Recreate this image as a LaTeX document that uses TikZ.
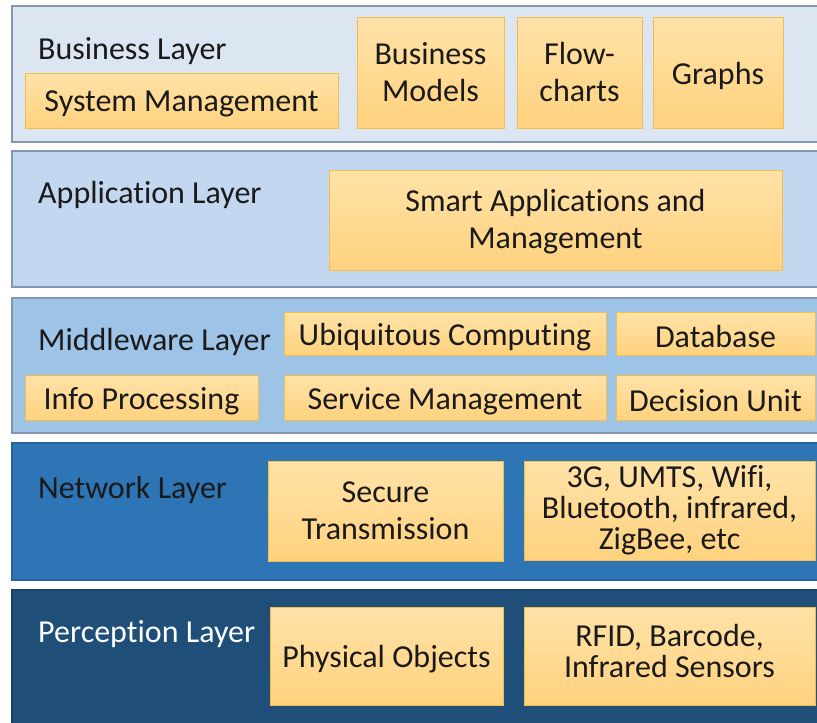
\documentclass[tikz,border=0pt]{standalone}
\usepackage{fontspec}
\setmainfont{Carlito}[Ligatures=NoCommon]
\definecolor{bizfill}{HTML}{DCE6F2}
\definecolor{appfill}{HTML}{C3D8F0}
\definecolor{midfill}{HTML}{9DC3E6}
\definecolor{netfill}{HTML}{2E75B6}
\definecolor{perfill}{HTML}{1F4E79}
\definecolor{layeredge}{HTML}{8497B0}
\definecolor{boxtop}{HTML}{FFE2A8}
\definecolor{boxbot}{HTML}{FFD27E}
\definecolor{boxedge}{HTML}{F2C04A}
\definecolor{ink}{HTML}{1A1A1A}
\tikzset{
  layer/.style={rectangle, anchor=north west, inner sep=0pt, line width=1.5pt},
  layerlabel/.style={anchor=base west, inner sep=0pt, font=\fontsize{32}{37}\selectfont},
  item/.style={rectangle, draw=boxedge, line width=1pt, top color=boxtop, bottom color=boxbot,
    align=center, inner sep=0pt, text=ink, font=\fontsize{32}{37}\selectfont},
}
% shifts box text vertically while keeping its nominal size for centring
\newcommand{\shifttext}[2]{\raisebox{#1}[\height][\depth]{#2}}
\newcommand{\lowtext}[1]{\shifttext{-3.5pt}{#1}}
\newcommand{\lines}[1]{\begin{tabular}{@{}c@{}}#1\end{tabular}}
\begin{document}
\begin{tikzpicture}[x=1pt,y=-1pt]
\useasboundingbox (0,0) rectangle (817,723);
\fill[white] (0,0) rectangle (817,723);
\begin{scope}
\clip (0,0) rectangle (817,723);
% layer bands
\node[layer, fill=bizfill, draw=layeredge, minimum width=830pt, minimum height=136pt] (biz) at (11,5) {};
\node[layer, fill=appfill, draw=layeredge, minimum width=830pt, minimum height=136pt] (app) at (11,150) {};
\node[layer, fill=midfill, draw=layeredge, minimum width=830pt, minimum height=135pt] (mid) at (11,297) {};
\node[layer, fill=netfill, draw=netfill!85!black, minimum width=830pt, minimum height=137pt] (net) at (11,442) {};
\node[layer, fill=perfill, draw=perfill!85!black, minimum width=830pt, minimum height=150pt] (per) at (11,589) {};
\end{scope}
% layer titles
\node[layerlabel, text=ink] (bizlbl) at (38,59) {Business Layer};
\node[layerlabel, text=ink] (applbl) at (38,203) {Application Layer};
\node[layerlabel, text=ink] (midlbl) at (38,350) {Middleware Layer};
\node[layerlabel, text=ink] (netlbl) at (38,498) {Network Layer};
\node[layerlabel, text=white] (perlbl) at (38,642) {Perception Layer};
% business layer
\node[item, minimum width=313pt, minimum height=55pt] (sysm) at (181.5,100.5) {\lowtext{System Management}};
\node[item, minimum width=147pt, minimum height=111pt] (bmod) at (430.5,72.5) {Business\\Models};
\node[item, minimum width=125pt, minimum height=111pt] (flow) at (579.5,72.5) {Flow-\\charts};
\node[item, minimum width=130pt, minimum height=111pt] (graphs) at (718,72.5) {\lowtext{Graphs}};
% application layer
\node[item, minimum width=453pt, minimum height=100pt] (smart) at (555.5,220)
  {\shifttext{-3pt}{\lines{Smart Applications and\\Management}}};
% middleware layer
\node[item, minimum width=322pt, minimum height=43pt] (ubiq) at (445,333.5) {\lowtext{Ubiquitous Computing}};
\node[item, minimum width=199pt, minimum height=43pt] (db) at (715.5,333.5) {\lowtext{Database}};
\node[item, minimum width=233pt, minimum height=45pt] (info) at (141.5,397.5) {\lowtext{Info Processing}};
\node[item, minimum width=322pt, minimum height=45pt] (serv) at (445,397.5) {\lowtext{Service Management}};
\node[item, minimum width=199pt, minimum height=45pt] (dec) at (715.5,397.5) {\lowtext{Decision Unit}};
% network layer
\node[item, minimum width=235pt, minimum height=100pt] (sec) at (385.5,511) {Secure\\Transmission};
\node[item, minimum width=291pt, minimum height=99pt, font=\fontsize{32}{31}\selectfont] (radio) at (669.5,510.5) {3G, UMTS, Wifi,\\Bluetooth, infrared,\\ZigBee, etc};
% perception layer
\node[item, minimum width=233pt, minimum height=98pt] (phys) at (386.5,656) {\lowtext{Physical Objects}};
\node[item, minimum width=291pt, minimum height=98pt, font=\fontsize{32}{29}\selectfont] (rfid) at (669.5,656)
  {\shifttext{1pt}{\lines{RFID, Barcode,\\Infrared Sensors}}};
\end{tikzpicture}
\end{document}
